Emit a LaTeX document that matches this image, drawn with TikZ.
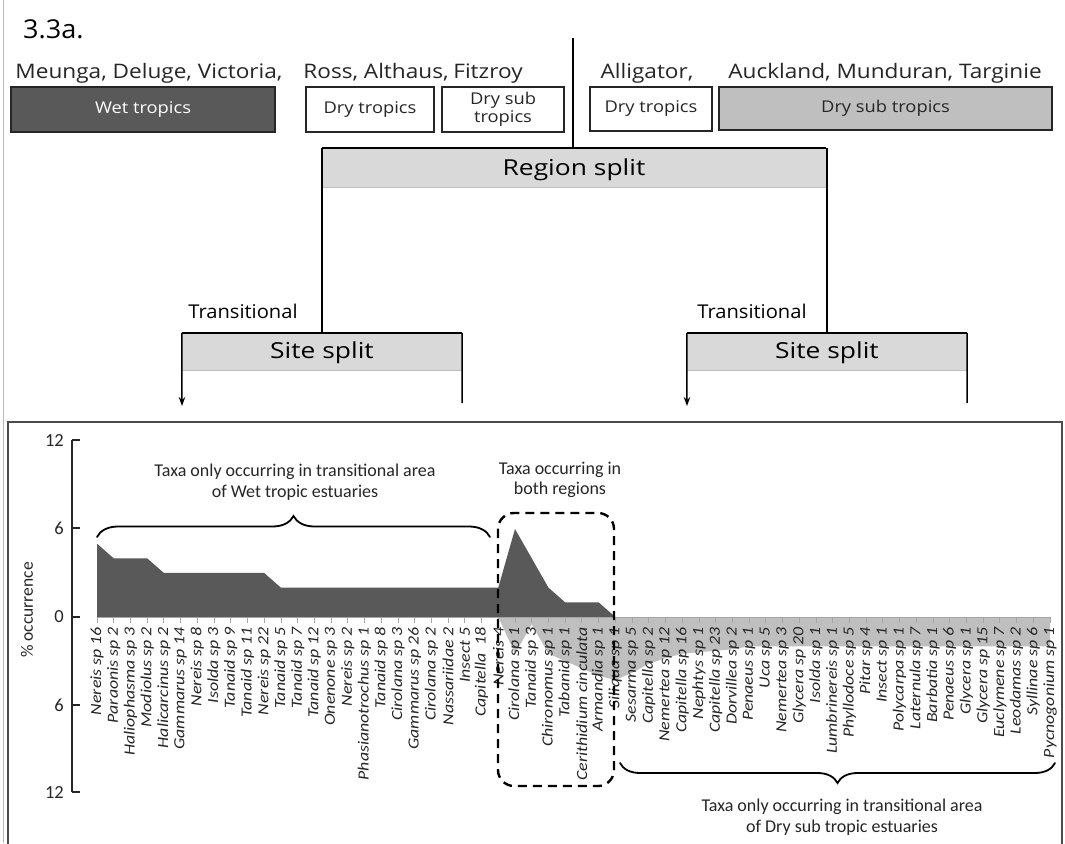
\documentclass[tikz,border=0pt]{standalone}
\usepackage{fontspec}
\setmainfont{Carlito}
\newfontfamily\headfont{Open Sans}
\usetikzlibrary{decorations.pathreplacing,arrows.meta}
\definecolor{darkfill}{HTML}{595959}
\definecolor{lightfill}{HTML}{BFBFBF}
\definecolor{splitfill}{HTML}{D9D9D9}
\definecolor{axisgrey}{HTML}{A6A6A6}
\definecolor{inkgrey}{HTML}{262626}
% horizontal stretch of a piece of text
\newcommand{\stretchx}[2]{\scalebox{#1}[1]{#2}}

\begin{document}
\begin{tikzpicture}[x=1pt,y=-1pt,
  sitelabel/.style={font=\headfont\fontsize{20}{22}\selectfont, inner sep=0, anchor=base, text=inkgrey},
  climbox/.style={draw=inkgrey, line width=1.2pt, inner sep=0, align=center,
    font=\headfont\fontsize{16.2}{19.5}\selectfont, text=inkgrey},
  splitbox/.style={fill=splitfill, inner sep=0, text=black},
  splittext/.style={font=\headfont\fontsize{22}{24}\selectfont, inner sep=0},
  translabel/.style={font=\headfont\fontsize{19}{21}\selectfont, inner sep=0},
  taxon/.style={font=\itshape\fontsize{15.5}{16}\selectfont, rotate=90, anchor=east, inner sep=0, text=inkgrey},
  ticklabel/.style={font=\fontsize{18.5}{20}\selectfont, anchor=east, inner sep=0, text=inkgrey},
  note/.style={font=\fontsize{18}{20.5}\selectfont, align=center, inner sep=0, text=inkgrey},
  bracestyle/.style={decorate, line width=1.8pt, line cap=round},
  connector/.style={line width=1.5pt, draw=black},
]
\useasboundingbox (0,0) rectangle (1065,843);
\fill[white] (0,0) rectangle (1065,843);
\draw[gray!55, line width=1pt] (3,0) -- (3,843);

% ---------- heading and climate boxes ----------
\node[font=\headfont\fontsize{26}{28}\selectfont, anchor=base west, inner sep=0] (fig) at (23,38) {\stretchx{1.04}{3.3a.}};

\node[sitelabel] (s1) at (149,78) {\stretchx{1.13}{Meunga, Deluge, Victoria,}};
\node[sitelabel] (s2) at (376,78) {\stretchx{1.13}{Ross, Althaus,}};
\node[sitelabel] (s3) at (488,78) {\stretchx{1.13}{Fitzroy}};
\node[sitelabel] (s4) at (647,78) {\stretchx{1.13}{Alligator,}};
\node[sitelabel] (s5) at (885,78) {\stretchx{1.13}{Auckland, Munduran, Targinie}};

\node[climbox, fill=darkfill, text=white, minimum width=264, minimum height=45] (wet) at (143,109.5) {\stretchx{1.13}{Wet tropics}};
\node[climbox, fill=white, minimum width=128, minimum height=45] (dryA) at (370,109.5) {\stretchx{1.13}{Dry tropics}};
\node[climbox, fill=white, minimum width=122, minimum height=45] (dsubA) at (503,109.5) {\stretchx{1.13}{Dry sub}\\[-1pt]\stretchx{1.13}{tropics}};
\node[climbox, fill=white, minimum width=122, minimum height=44] (dryB) at (651,109) {\stretchx{1.13}{Dry tropics}};
\node[climbox, fill=lightfill, minimum width=333, minimum height=43] (dsubB) at (885.5,108.5) {\stretchx{1.13}{Dry sub tropics}};

% ---------- split tree ----------
\node[splitbox, minimum width=504, minimum height=39] (reg) at (574,167.5) {};
\node[splittext] (regtxt) at (574,170) {\stretchx{1.2}{Region split}};
\draw[line width=1pt, draw=lightfill] (reg.south west) -- (reg.south east);

\node[splitbox, minimum width=280, minimum height=37] (siteL) at (322,351.5) {};
\node[splittext] (siteLtxt) at (322,353) {\stretchx{1.2}{Site split}};
\draw[line width=1pt, draw=lightfill] (siteL.south west) -- (siteL.south east);

\node[splitbox, minimum width=280, minimum height=37] (siteR) at (827,351.5) {};
\node[splittext] (siteRtxt) at (827,353) {\stretchx{1.2}{Site split}};
\draw[line width=1pt, draw=lightfill] (siteR.south west) -- (siteR.south east);

\coordinate (stem) at (573,38);
\draw[connector] (stem) -- (stem |- reg.north);
\draw[connector] (reg.north west) -- (reg.north east);
\draw[connector] (siteL.north) -- (siteL.north |- reg.north);
\draw[connector] (siteR.north) -- (siteR.north |- reg.north);
\draw[line width=2pt] (siteL.north west) -- (siteL.north east);
\draw[line width=2pt] (siteR.north west) -- (siteR.north east);

\coordinate (arrL) at (182,406);
\coordinate (endL) at (462,403);
\coordinate (arrR) at (687,406);
\coordinate (endR) at (967,403);
\draw[connector, -{Stealth[length=9pt,width=6.5pt]}] (siteL.north west) -- (arrL);
\draw[connector] (siteL.north east) -- (endL);
\draw[connector, -{Stealth[length=9pt,width=6.5pt]}] (siteR.north west) -- (arrR);
\draw[connector] (siteR.north east) -- (endR);

\node[translabel] (trL) at (243,311) {\stretchx{1.06}{Transitional}};
\node[translabel] (trR) at (752,311) {\stretchx{1.06}{Transitional}};

% ---------- chart panel ----------
\draw[line width=1.6pt, draw=black!70] (8,422) rectangle (1062,870);

% Dry sub tropic series (drawn below the zero line)
\fill[lightfill] (498.3,617)
  \foreach \v [count=\i from 25] in {2.5,0.5,2.5,3,3.5,4,4.3,3.8,3.2,2.8,2.5,2.4,2.3,2.2,2,2,2,2,2,2,2,2,2,2,2,2,2,2,2,2,2,2,2}
  { -- ({97+16.72*\i},{617+14.67*\v}) }
  -- (1050,617) -- cycle;

% Wet tropic series (above the zero line)
\fill[darkfill] (97,617)
  \foreach \v [count=\i from 0] in {5,4,4,4,3,3,3,3,3,3,3,2,2,2,2,2,2,2,2,2,2,2,2,2,2,6,4,2,1,1,1,0}
  { -- ({97+16.72*\i},{617-14.67*\v}) }
  -- cycle;

% x axis and ticks
\draw[axisgrey, line width=1pt] (97,617) -- (1050,617);
\foreach \i in {0,...,57} { \draw[axisgrey, line width=0.8pt] ({97+16.72*\i},617) -- ({97+16.72*\i},623); }

% y axis
\draw[inkgrey, line width=1.2pt] (72,440) -- (72,792);
\foreach \yy/\lab in {440/12,528/6,617/0,705/6,792/12} {
  \draw[inkgrey, line width=1.2pt] (72,\yy) -- (80,\yy);
  \node[ticklabel] at (64,\yy) {\lab};
}
\node[font=\fontsize{17.5}{19}\selectfont, rotate=90, inner sep=0, text=inkgrey] (ylab) at (27,610) {\% occurrence};

% taxon labels
\foreach \name [count=\i from 0] in {Nereis sp 16,Paraonis sp 2,Haliophasma sp 3,Modiolus sp 2,Halicarcinus sp 2,Gammarus sp 14,Nereis sp 8,Isolda sp 3,Tanaid sp 9,Tanaid sp 11,Nereis sp 22,Tanaid sp 5,Tanaid sp 7,Tanaid sp 12,Onenone sp 3,Nereis sp 2,Phasianotrochus sp 1,Tanaid sp 8,Cirolana sp 3,Gammarus sp 26,Cirolana sp 2,Nassariidae 2,Insect 5,Capitella\ \ 18,Nereis 4,Cirolana sp 1,Tanaid sp 3,Chironomus sp 1,Tabanid sp 1,Cerithidium cinculata,Armandia sp 1,Siliqua sp 1,Sesarma sp 5,Capitella sp 2,Nemertea sp 12,Capitella sp 16,Nephtys sp 1,Capitella sp 23,Dorvillea sp 2,Penaeus sp 1,Uca sp 5,Nemertea sp 3,Glycera sp 20,Isolda sp 1,Lumbrinereis sp 1,Phyllodoce sp 5,Pitar sp 4,Insect sp 1,Polycarpa sp 1,Laternula sp 7,Barbatia sp 1,Penaeus sp 6,Glycera sp 1,Glycera sp 15,Euclymene sp 7,Leodamas sp 2,Syllinae sp 6,Pycnogonium sp 1}
{ \node[taxon] (tx\i) at ({97+16.72*\i},627) {\stretchx{1.15}{\name}}; }

% group annotations
\coordinate (wbA) at (97,537);
\coordinate (wbB) at (490,537);
\draw[bracestyle, decoration={brace, amplitude=21pt}] (wbA) -- (wbB);
\node[note] (wetnote) at (295,482) {Taxa only occurring in transitional area\\of Wet tropic estuaries};

\node[note] (bothnote) at (560,480) {Taxa occurring in\\both regions};
\draw[dashed, dash pattern=on 9pt off 6pt, line width=2.4pt, rounded corners=16pt] (498,513) rectangle (614,786);

\coordinate (dbA) at (1055,763);
\coordinate (dbB) at (620,763);
\draw[bracestyle, decoration={brace, amplitude=20pt}] (dbA) -- (dbB);
\node[note] (drynote) at (842,817) {Taxa only occurring in transitional area\\of Dry sub tropic estuaries};
\end{tikzpicture}
\end{document}
